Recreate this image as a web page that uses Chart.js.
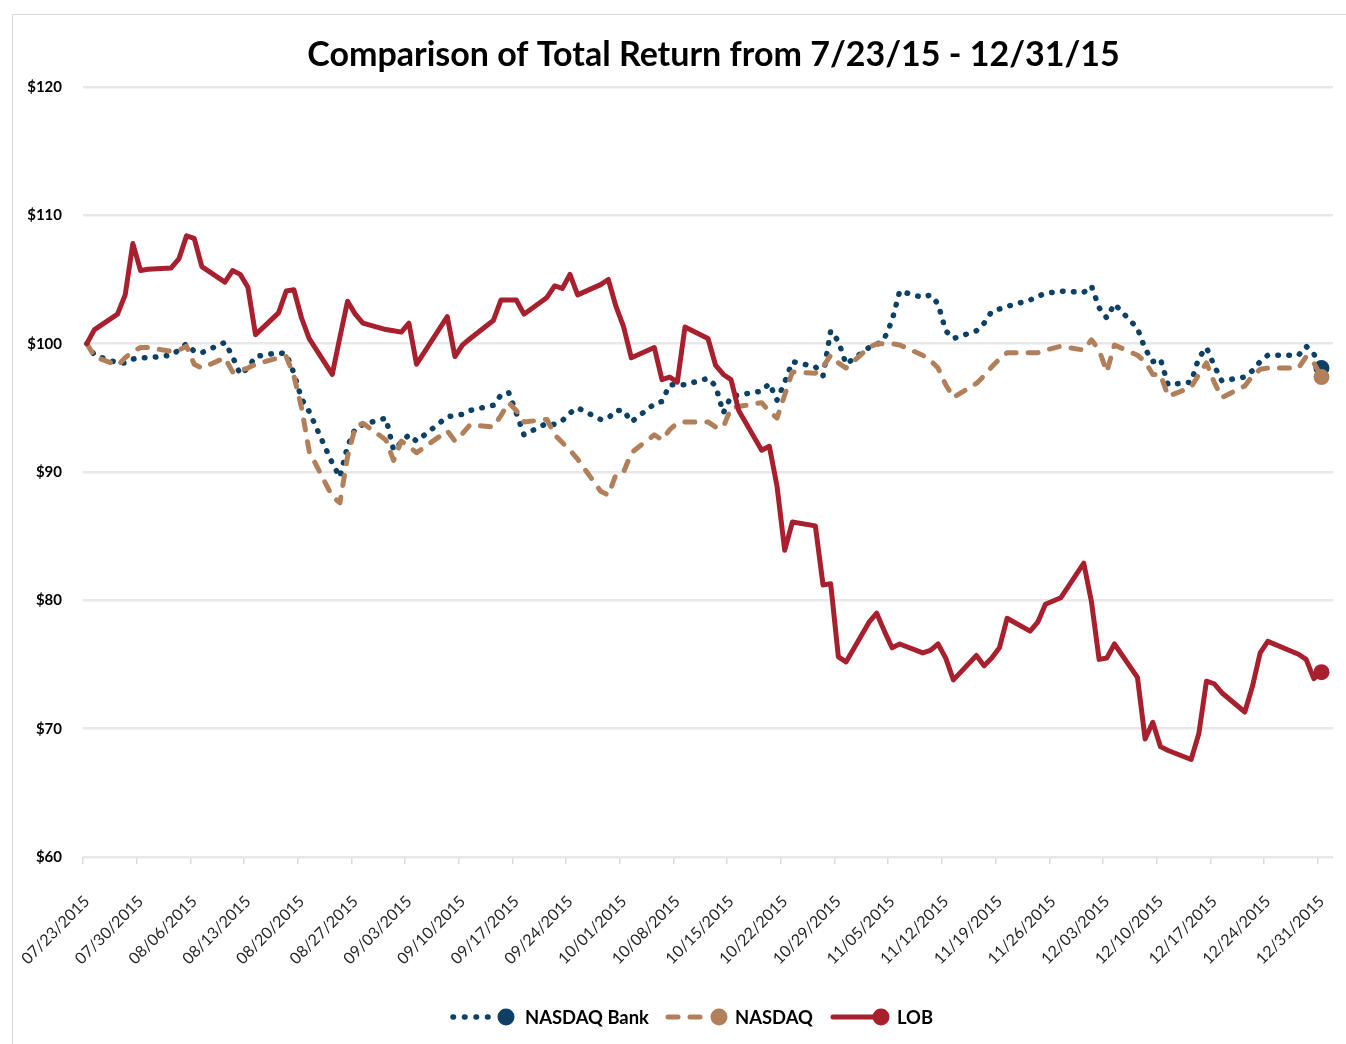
<!DOCTYPE html>
<html><head><meta charset="utf-8">
<script src="https://cdn.jsdelivr.net/npm/chart.js@4/dist/chart.umd.min.js"></script>
<style>html,body{margin:0;padding:0;background:#fff}#wrap{position:relative;width:1346px;height:1044px}</style>
</head><body><div id="wrap"><canvas id="c"></canvas></div>
<script>
// ---------- DATA ----------
const chartTitle = 'Comparison of Total Return from 7/23/15 - 12/31/15';
const seriesNames = ['NASDAQ Bank', 'NASDAQ', 'LOB'];
const tradingDays = [
 '2015-07-23','2015-07-24','2015-07-27','2015-07-28','2015-07-29','2015-07-30','2015-07-31',
 '2015-08-03','2015-08-04','2015-08-05','2015-08-06','2015-08-07','2015-08-10','2015-08-11','2015-08-12','2015-08-13','2015-08-14','2015-08-17','2015-08-18','2015-08-19','2015-08-20','2015-08-21','2015-08-24','2015-08-25','2015-08-26','2015-08-27','2015-08-28','2015-08-31',
 '2015-09-01','2015-09-02','2015-09-03','2015-09-04','2015-09-08','2015-09-09','2015-09-10','2015-09-11','2015-09-14','2015-09-15','2015-09-16','2015-09-17','2015-09-18','2015-09-21','2015-09-22','2015-09-23','2015-09-24','2015-09-25','2015-09-28','2015-09-29','2015-09-30',
 '2015-10-01','2015-10-02','2015-10-05','2015-10-06','2015-10-07','2015-10-08','2015-10-09','2015-10-12','2015-10-13','2015-10-14','2015-10-15','2015-10-16','2015-10-19','2015-10-20','2015-10-21','2015-10-22','2015-10-23','2015-10-26','2015-10-27','2015-10-28','2015-10-29','2015-10-30',
 '2015-11-02','2015-11-03','2015-11-04','2015-11-05','2015-11-06','2015-11-09','2015-11-10','2015-11-11','2015-11-12','2015-11-13','2015-11-16','2015-11-17','2015-11-18','2015-11-19','2015-11-20','2015-11-23','2015-11-24','2015-11-25','2015-11-27','2015-11-30',
 '2015-12-01','2015-12-02','2015-12-03','2015-12-04','2015-12-07','2015-12-08','2015-12-09','2015-12-10','2015-12-11','2015-12-14','2015-12-15','2015-12-16','2015-12-17','2015-12-18','2015-12-21','2015-12-22','2015-12-23','2015-12-24','2015-12-28','2015-12-29','2015-12-30','2015-12-31'
];
const lob = [
 100.0,101.1,102.3,103.8,107.8,105.7,105.8,
 105.9,106.6,108.4,108.2,106.0,104.8,105.7,105.4,104.4,100.7,102.4,104.1,104.2,102.0,100.4,97.6,100.5,103.3,102.3,101.6,101.1,
 101.0,100.9,101.6,98.4,102.1,99.0,99.9,100.4,101.8,103.4,103.4,103.4,102.3,103.6,104.5,104.3,105.4,103.8,104.6,105.0,102.9,
 101.3,98.9,99.7,97.2,97.4,97.0,101.3,100.4,98.3,97.6,97.2,94.8,91.7,92.0,88.9,83.9,86.1,85.8,81.2,81.3,75.6,75.2,
 78.3,79.0,77.6,76.3,76.6,75.9,76.1,76.6,75.5,73.8,75.7,74.9,75.5,76.3,78.6,77.6,78.3,79.7,80.2,82.9,
 79.9,75.4,75.5,76.6,74.0,69.2,70.5,68.6,68.3,67.6,69.6,73.7,73.5,72.8,71.3,73.3,75.9,76.8,75.8,75.4,73.9,74.4
];
const nasdaq = [
 100.0,99.0,98.3,98.9,99.4,99.7,99.7,
 99.4,99.5,99.8,98.4,98.1,98.9,97.8,97.9,98.1,98.4,98.9,99.0,97.5,95.0,91.6,88.1,87.6,91.2,93.5,93.8,92.5,
 90.9,92.4,92.0,91.5,93.2,92.4,93.0,93.7,93.5,94.4,95.4,94.8,93.9,94.1,92.9,92.3,91.7,91.0,88.5,88.2,89.8,
 90.0,91.5,92.9,92.5,93.3,93.8,93.9,93.9,93.5,93.5,95.0,95.1,95.4,94.7,94.2,96.0,97.8,97.7,98.2,99.1,98.5,98.1,
 99.7,100.0,100.0,100.0,99.9,99.1,98.7,98.1,96.8,95.8,96.9,97.5,98.2,98.8,99.3,99.3,99.3,99.5,99.8,99.5,
 100.3,99.5,97.8,99.9,99.1,98.6,97.6,97.6,95.9,96.6,97.6,98.5,97.0,95.8,96.7,97.5,98.0,98.1,98.1,99.0,98.5,97.4
];
const nasdaqBank = [
 100.0,99.1,98.5,98.5,98.8,98.9,98.9,
 99.1,99.5,100.0,99.4,99.3,100.1,99.0,97.6,98.1,99.0,99.3,99.2,97.7,95.7,94.7,90.7,89.6,92.0,93.4,93.7,94.2,
 91.7,92.3,92.9,92.4,94.3,94.4,94.5,94.8,95.2,96.0,96.2,94.6,92.9,93.8,93.7,94.0,94.6,95.0,94.1,94.2,94.8,
 94.8,93.9,95.3,95.5,96.8,96.8,96.8,97.3,96.7,94.6,95.9,96.0,96.3,96.9,95.6,97.0,98.6,98.2,97.5,101.0,100.2,98.4,
 99.7,99.9,100.4,101.8,104.1,103.6,103.8,103.1,101.0,100.4,101.0,101.6,102.5,102.7,102.9,103.4,103.7,103.9,104.1,104.0,
 104.5,102.8,102.0,103.1,101.2,99.6,98.6,98.8,96.8,97.0,98.9,99.7,98.3,97.1,97.4,97.9,98.6,99.1,99.1,99.8,99.2,98.1
];
const tickLabels = ['07/23/2015','07/30/2015','08/06/2015','08/13/2015','08/20/2015','08/27/2015','09/03/2015','09/10/2015','09/17/2015','09/24/2015','10/01/2015','10/08/2015','10/15/2015','10/22/2015','10/29/2015','11/05/2015','11/12/2015','11/19/2015','11/26/2015','12/03/2015','12/10/2015','12/17/2015','12/24/2015','12/31/2015'];
const yMin = 60, yMax = 120, yStep = 10;

// ---------- HELPERS ----------
const BASE = Date.UTC(2015, 6, 23);
function dayIdx(y, m, d) { return Math.round((Date.UTC(y, m - 1, d) - BASE) / 86400000); }
function isoDay(s) { const p = s.split('-').map(Number); return dayIdx(p[0], p[1], p[2]); }
function usDay(s) { const p = s.split('/').map(Number); return dayIdx(p[2], p[0], p[1]); }
const xs = tradingDays.map(isoDay);
const tickPos = tickLabels.map(t => usDay(t) - 0.5);
const pts = arr => arr.map((v, i) => ({ x: xs[i], y: v }));

const COL = { bank: '#0C4064', ndq: '#B1805A', lob: '#A81F2D' };
const FONT = 'Lato, "Open Sans", "DejaVu Sans", sans-serif';
const lastR = ctx => (ctx.dataIndex === ctx.dataset.data.length - 1 ? 8 : 0);

function fitSize(ctx, text, weight, target) {
  ctx.font = weight + ' 100px ' + FONT;
  return 100 * target / ctx.measureText(text).width;
}

const deco = {
  id: 'deco',
  beforeDraw(chart) {
    const c = chart.ctx; c.save();
    c.fillStyle = '#fff'; c.fillRect(0, 0, chart.width, chart.height);
    c.strokeStyle = '#d9d9d9'; c.lineWidth = 1;
    c.strokeRect(12.5, 14.5, chart.width, chart.height);
    c.restore();
  },
  afterDraw(chart) {
    const c = chart.ctx; c.save();
    // title
    let s = Math.min(34, fitSize(c, chartTitle, 'bold', 819));
    c.font = 'bold ' + s + 'px ' + FONT;
    c.fillStyle = '#000'; c.textAlign = 'center'; c.textBaseline = 'alphabetic';
    c.fillText(chartTitle, 713.5, 66);
    // legend
    const ly = 1017;
    const ls = Math.min(19, fitSize(c, seriesNames[0], 'bold', 124));
    const items = [
      { col: COL.bank, dash: [0.5, 11], x0: 453, x1: 497, cx: 506, tx: 525, w: 5.5 },
      { col: COL.ndq, dash: [10, 12], x0: 668, x1: 712, cx: 719, tx: 735, w: 5 },
      { col: COL.lob, dash: [], x0: 833, x1: 874, cx: 881, tx: 897, w: 5 }
    ];
    items.forEach((it, i) => {
      c.strokeStyle = it.col; c.lineWidth = it.w; c.lineCap = 'round'; c.setLineDash(it.dash);
      c.beginPath(); c.moveTo(it.x0, ly); c.lineTo(it.x1, ly); c.stroke();
      c.setLineDash([]);
      c.fillStyle = it.col; c.beginPath(); c.arc(it.cx, ly, 8.5, 0, Math.PI * 2); c.fill();
      c.fillStyle = '#000'; c.font = 'bold ' + ls + 'px ' + FONT;
      c.textAlign = 'left'; c.textBaseline = 'middle';
      c.fillText(seriesNames[i], it.tx, ly + 1);
    });
    c.restore();
  }
};

new Chart(document.getElementById('c'), {
  type: 'line',
  data: {
    datasets: [
      { label: seriesNames[0], data: pts(nasdaqBank), borderColor: COL.bank, backgroundColor: COL.bank,
        borderWidth: 5.5, borderDash: [0.5, 10.5], borderCapStyle: 'round', borderJoinStyle: 'round',
        pointRadius: lastR, pointBorderWidth: 0, pointBackgroundColor: COL.bank, tension: 0, order: 3 },
      { label: seriesNames[1], data: pts(nasdaq), borderColor: COL.ndq, backgroundColor: COL.ndq,
        borderWidth: 5, borderDash: [10, 12], borderCapStyle: 'round', borderJoinStyle: 'round',
        pointRadius: lastR, pointBorderWidth: 0, pointBackgroundColor: COL.ndq, tension: 0, order: 2 },
      { label: seriesNames[2], data: pts(lob), borderColor: COL.lob, backgroundColor: COL.lob,
        borderWidth: 5, borderCapStyle: 'round', borderJoinStyle: 'round',
        pointRadius: lastR, pointBorderWidth: 0, pointBackgroundColor: COL.lob, tension: 0, order: 1 }
    ]
  },
  options: {
    responsive: true, maintainAspectRatio: false, animation: false,
    events: [],
    layout: { autoPadding: false, padding: { top: 87, right: 13, bottom: 0, left: 0 } },
    plugins: { legend: { display: false }, title: { display: false }, tooltip: { enabled: false } },
    scales: {
      x: {
        type: 'linear', min: -0.5, max: 162.5,
        afterBuildTicks: ax => { ax.ticks = tickPos.map(v => ({ value: v })); },
        afterFit: ax => { ax.height = 187; ax.paddingLeft = 0; ax.paddingRight = 0; },
        grid: { drawOnChartArea: false, drawTicks: true, tickLength: 7, color: '#d9d9d9', lineWidth: 1.5 },
        border: { display: false },
        ticks: { autoSkip: false, maxRotation: 45, minRotation: 45, padding: 28, labelOffset: 4,
          color: '#262626', font: { family: FONT, size: 16 },
          callback: (v, i) => tickLabels[i] }
      },
      y: {
        min: yMin, max: yMax,
        afterFit: ax => { ax.width = 83; },
        grid: { drawTicks: false, color: '#e8e8e8', lineWidth: 2.5 },
        border: { display: false },
        ticks: { stepSize: yStep, padding: 21, color: '#000',
          font: { family: FONT, size: 15, weight: 'bold' },
          callback: v => '$' + v }
      }
    }
  },
  plugins: [deco]
});
</script>
</body></html>
